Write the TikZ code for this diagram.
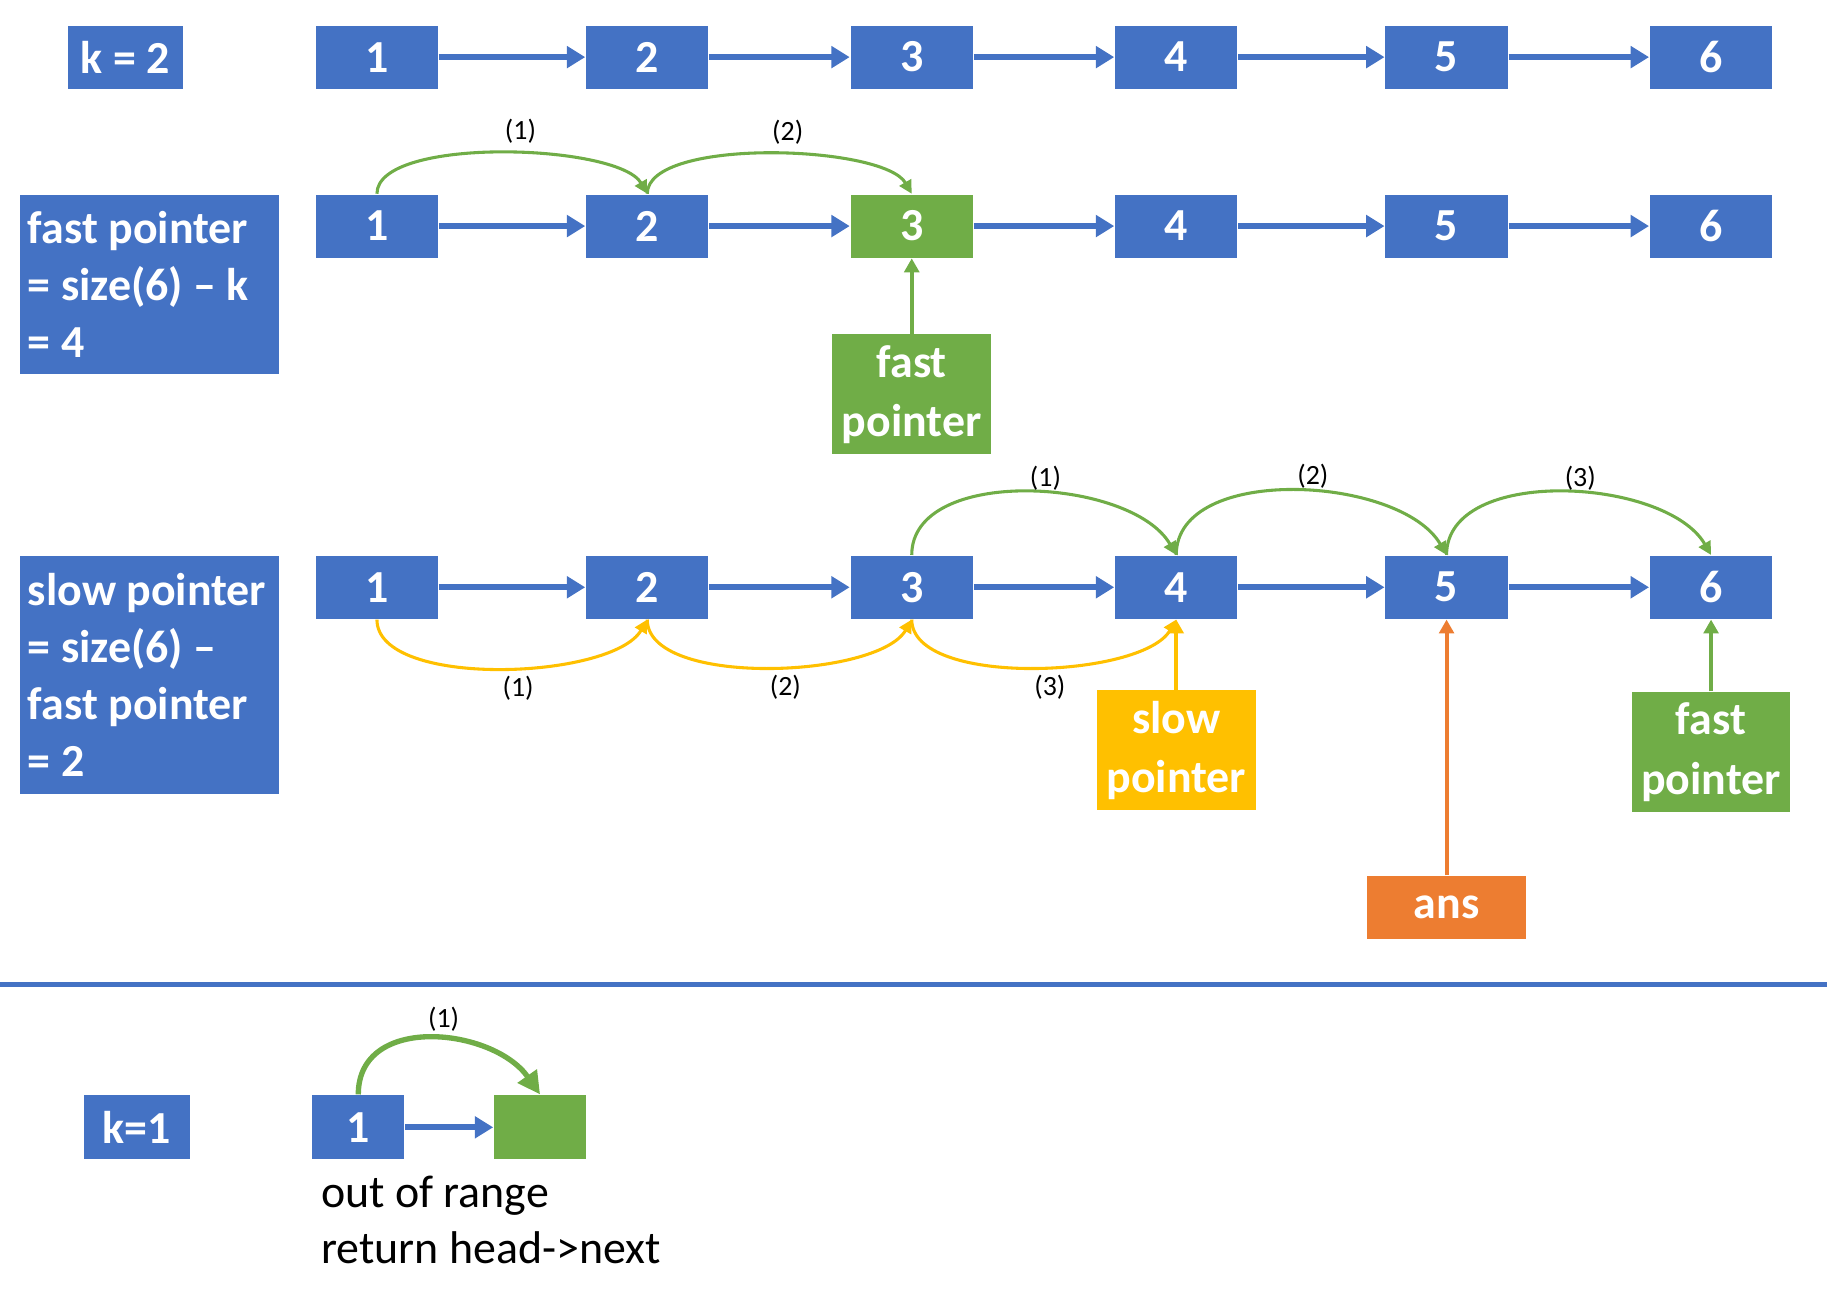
\documentclass[tikz,border=0pt]{standalone}
\usepackage{fontspec}
\setmainfont{Carlito}
\usetikzlibrary{arrows.meta}

\definecolor{listblue}{HTML}{4472C4}
\definecolor{ptrgreen}{HTML}{70AD47}
\definecolor{slowyellow}{HTML}{FFC000}
\definecolor{ansorange}{HTML}{ED7D31}

\tikzset{
  box/.style={fill=listblue, text=white, font=\bfseries\fontsize{11.2}{14}\selectfont,
    minimum width=1.05cm, minimum height=0.54cm, inner sep=0},
  infobox/.style={fill=listblue, text=white, font=\bfseries\fontsize{11.2}{13.9}\selectfont,
    align=flush left, text width=2.08cm, inner xsep=0.07cm, inner ysep=0, minimum height=#1},
  ptrbox/.style={text=white, font=\bfseries\fontsize{11.2}{14.5}\selectfont,
    align=center, minimum width=1.36cm, minimum height=1.03cm, inner sep=0},
  nextarrow/.style={-{Triangle[length=4.5pt,width=5.2pt]}, listblue, line width=1.5pt},
  hop/.style={-{Triangle[length=3.2pt,width=3.2pt]}, line width=0.75pt},
  ptrarrow/.style={-{Triangle[length=3.4pt,width=3.6pt]}, line width=1pt},
  steplbl/.style={text=black, font=\fontsize{6.8}{8}\selectfont, inner sep=0, pos=.55}
}

\begin{document}
\begin{tikzpicture}[x=0.01cm,y=-0.01cm]
\useasboundingbox (0,0) rectangle (1568,1120);

\node[box, minimum width=0.99cm] (k2) at (107.5,49) {k = 2};
\node[infobox=1.54cm] (fastinfo) at (128,244) {fast pointer\\= size(6) – k\\= 4};
\node[infobox=2.04cm] (slowinfo) at (128,579) {slow pointer\\= size(6) –\\fast pointer\\= 2};

% the three lists
\foreach \i/\x in {1/323.5,2/555.5,3/782.5,4/1009.5,5/1241.5,6/1468.5} {
  \ifnum\i=3 \def\boxcol{ptrgreen}\else\def\boxcol{listblue}\fi
  \node[box] (a\i) at (\x,49) {\i};
  \node[box, fill=\boxcol] (b\i) at (\x,194) {\i};
  \node[box] (c\i) at (\x,504) {\i};
}
\foreach \i [count=\j from 2] in {1,...,5} {
  \draw[nextarrow] (a\i) -- (a\j);
  \draw[nextarrow] (b\i) -- (b\j);
  \draw[nextarrow] (c\i) -- (c\j);
}

% fast pointer moves k steps
\draw[hop, ptrgreen] (b1.north) to[out=90,in=120,looseness=.55] node[steplbl,above=2.2pt] {(1)} (b2.north);
\draw[hop, ptrgreen] (b2.north) to[out=90,in=120,looseness=.55] node[steplbl,above=2.2pt] {(2)} (b3.north);
\node[ptrbox, fill=ptrgreen] (fast1) at (782.5,338.5) {fast\\pointer};
\draw[ptrarrow, ptrgreen] (fast1) -- (b3);

% both pointers move together
\foreach \i/\j/\n in {3/4/1,4/5/2,5/6/3}
  \draw[hop, ptrgreen] (c\i.north) to[out=90,in=120,looseness=.87] node[steplbl,above=0.4pt] {(\n)} (c\j.north);
\foreach \i/\j/\n in {1/2/1,2/3/2,3/4/3}
  \draw[hop, slowyellow] (c\i.south) to[out=-90,in=-120,looseness=.66] node[steplbl,below=1.8pt] {(\n)} (c\j.south);

\node[ptrbox, fill=slowyellow] (slow) at (1009.5,644) {slow\\pointer};
\node[ptrbox, fill=ptrgreen] (fast2) at (1468.5,645.5) {fast\\pointer};
\node[ptrbox, fill=ansorange, minimum height=0.54cm] (ans) at (1241.5,779) {ans};
\draw[ptrarrow, slowyellow] (slow) -- (c4);
\draw[ptrarrow, ptrgreen] (fast2) -- (c6);
\draw[ptrarrow, ansorange] (ans) -- (c5);

\draw[listblue, line width=1.1pt] (0,845) -- (1568,845);

% k = 1
\node[box, minimum width=0.91cm, minimum height=0.55cm] (k1) at (117.5,967.5) {k=1};
\node[box, minimum width=0.79cm, minimum height=0.55cm] (d1) at (307.5,967.5) {1};
\node[box, fill=ptrgreen, minimum width=0.79cm, minimum height=0.55cm] (d2) at (463.5,967.5) {};
\draw[nextarrow] (d1) -- (d2);
\draw[-{Triangle[length=5.5pt,width=5.5pt]}, ptrgreen, line width=1.3pt] (d1.north) to[out=90,in=125,looseness=1.15] node[steplbl,above=1.5pt] {(1)} (d2.north);
\node[anchor=north west, align=left, inner sep=0, font=\fontsize{11.2}{13.6}\selectfont] (note) at (275,1009) {out of range\\return head->next};
\end{tikzpicture}
\end{document}
